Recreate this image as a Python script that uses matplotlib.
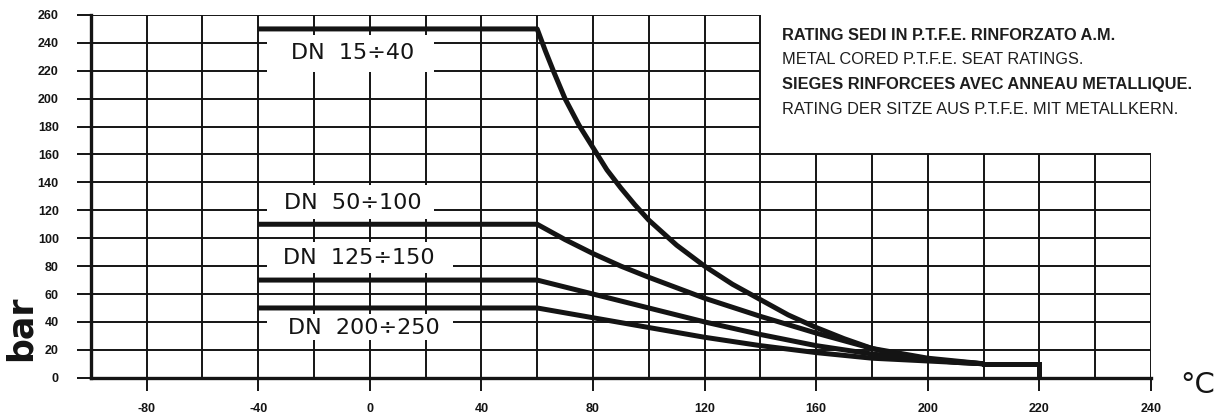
import numpy as np
import matplotlib
matplotlib.use("Agg")
import matplotlib.pyplot as plt
from matplotlib.patches import Rectangle

# x axis is drawn in slot units: one labelled tick every 40
xtick_labels = ["-80", "-40", "0", "40", "80", "120", "160", "200", "220", "240"]
ytick_values = list(range(0, 261, 20))

# pressure ratings (bar)
x_15_40 = [-40, 60, 63, 66, 70, 75, 80, 85, 90, 95, 100, 110, 120, 130, 140, 150,
           160, 170, 180, 190, 200, 210, 220]
y_15_40 = [250, 250, 234, 219, 200, 181, 165, 149, 136, 124, 113, 95, 80, 67, 56, 45,
           36, 28, 21, 16, 13, 11, 10]

x_50_100 = [-40, 60, 70, 80, 90, 100, 120, 140, 160, 180, 200, 220]
y_50_100 = [110, 110, 99, 89, 80, 72, 57, 44, 32, 21, 14, 10]

x_125_150 = [-40, 60, 80, 100, 120, 140, 160, 180, 200, 220]
y_125_150 = [70, 70, 60, 50, 40, 31, 23, 17, 13, 10]

x_200_250 = [-40, 60, 80, 100, 120, 140, 160, 180, 200, 220]
y_200_250 = [50, 50, 43, 36, 29, 23, 18, 14, 12, 10]

x_tail = [220, 240, 240]
y_tail = [10, 10, 0]

series = [
    ("DN  15÷40", x_15_40, y_15_40),
    ("DN  50÷100", x_50_100, y_50_100),
    ("DN  125÷150", x_125_150, y_125_150),
    ("DN  200÷250", x_200_250, y_200_250),
]

narrow = ["Liberation Sans", "DejaVu Sans"]
ink = "#141414"

fig = plt.figure(figsize=(12.26, 4.16), dpi=100)
ax = fig.add_axes([0.074, 0.092, 0.8648, 0.872])
ax.set_xlim(-100, 280)
ax.set_ylim(0, 260)

# grid, leaving the top right corner free for the title block
for y in ytick_values[1:]:
    xmax = 140 if y > 160 else 280
    ax.plot([-100, xmax], [y, y], color=ink, lw=1.4, zorder=1, solid_capstyle="butt")
for x in range(-80, 281, 20):
    ymax = 260 if x <= 140 else 160
    ax.plot([x, x], [0, ymax], color=ink, lw=1.4, zorder=1, solid_capstyle="butt")

for name, xs, ys in series:
    ax.plot(xs, ys, color=ink, lw=3.6, zorder=3, solid_capstyle="butt", solid_joinstyle="round")
ax.plot(x_tail, y_tail, color=ink, lw=3.6, zorder=3, solid_joinstyle="miter")

# label boxes knocked out of the grid
boxes = [(-37, 219, 60, 27, -6, 233),
         (-37, 114, 60, 24, -6, 125),
         (-37, 75, 67, 22, -4, 85.5),
         (-37, 27, 67, 19, -2, 36)]
for (name, xs, ys), (bx, by, bw, bh, tx, ty) in zip(series, boxes):
    ax.add_patch(Rectangle((bx, by), bw, bh, facecolor="white", edgecolor="none", zorder=2))
    ax.text(tx, ty, name, ha="center", va="center", fontsize=16, color=ink, zorder=4)

for s in ["top", "right"]:
    ax.spines[s].set_visible(False)
ax.spines["left"].set_linewidth(2.4)
ax.spines["bottom"].set_linewidth(2.4)
ax.spines["left"].set_color(ink)
ax.spines["bottom"].set_color(ink)

ax.set_xticks(np.arange(-80, 281, 40))
ax.set_xticklabels(xtick_labels)
ax.set_yticks(ytick_values)
ax.tick_params(axis="x", length=9, width=1.4, pad=9, color=ink)
ax.tick_params(axis="y", length=10, width=1.4, pad=13, color=ink)
for lab in ax.get_xticklabels() + ax.get_yticklabels():
    lab.set_family(narrow)
    lab.set_fontweight("bold")
    lab.set_fontsize(9)
    lab.set_color(ink)

fig.text(0.017, 0.21, "bar", rotation=90, ha="center", va="center", fontsize=25,
         fontweight="bold", color=ink)
fig.text(0.977, 0.075, "°C", ha="center", va="center", fontsize=21, color=ink)

title_lines = [
    ("RATING SEDI IN P.T.F.E. RINFORZATO A.M.", "bold"),
    ("METAL CORED P.T.F.E. SEAT RATINGS.", "normal"),
    ("SIEGES RINFORCEES AVEC ANNEAU METALLIQUE.", "bold"),
    ("RATING DER SITZE AUS P.T.F.E. MIT METALLKERN.", "normal"),
]
for i, (line, weight) in enumerate(title_lines):
    fig.text(782 / 1226, 1 - (35 + 25 * i) / 416, line, ha="left", va="center",
             fontsize=11.8, fontweight=weight, color="#1e1e1e", family=narrow)

fig.savefig("out.png", dpi=100, facecolor="white")
